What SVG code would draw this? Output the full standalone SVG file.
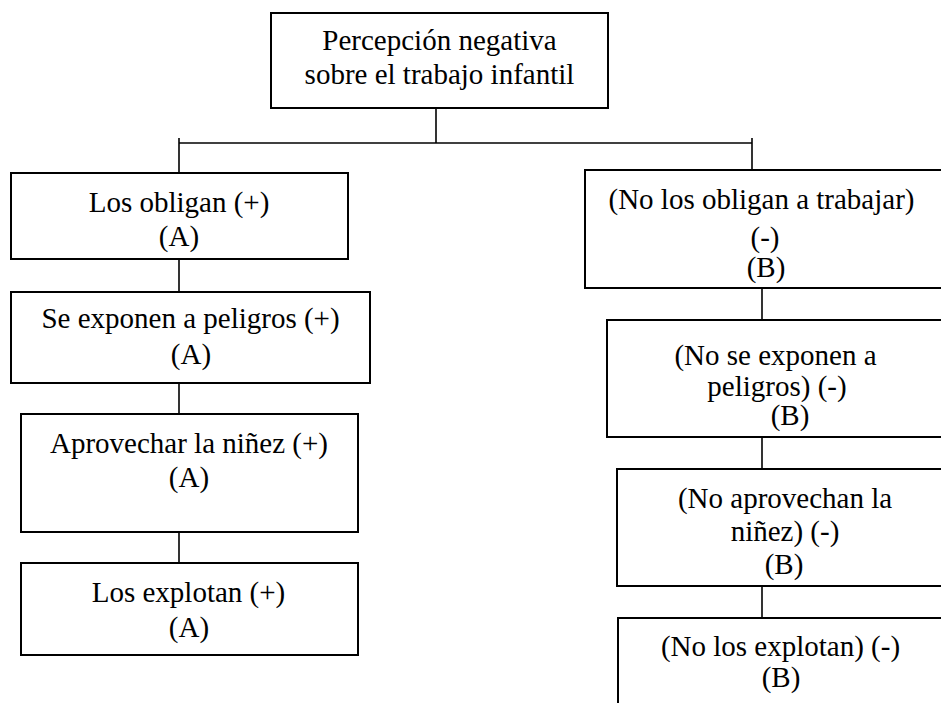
<svg xmlns="http://www.w3.org/2000/svg" width="941" height="703" viewBox="0 0 941 703">
  <style>
    .box { fill: #ffffff; stroke: #000000; stroke-width: 2; }
    .link { fill: none; stroke: #000000; stroke-width: 1.6; }
    text { font-family: "Liberation Serif", "Times New Roman", "DejaVu Serif", serif; font-size: 29px; fill: #000000; text-anchor: middle; }
  </style>
  <rect x="0" y="0" width="941" height="703" fill="#ffffff"/>

  <!-- connectors -->
  <g id="connectors">
    <line class="link" x1="436" y1="108" x2="436" y2="143"/>
    <line class="link" x1="179" y1="143" x2="752" y2="143"/>
    <line class="link" x1="179" y1="138" x2="179" y2="173"/>
    <line class="link" x1="752" y1="138" x2="752" y2="170"/>
    <line class="link" x1="179" y1="259" x2="179" y2="292"/>
    <line class="link" x1="179" y1="383" x2="179" y2="414"/>
    <line class="link" x1="179" y1="532" x2="179" y2="563"/>
    <line class="link" x1="762" y1="288" x2="762" y2="320"/>
    <line class="link" x1="762" y1="437" x2="762" y2="469"/>
    <line class="link" x1="762" y1="586" x2="762" y2="618"/>
  </g>

  <!-- root -->
  <g id="root">
    <rect class="box" x="271" y="13" width="337" height="95"/>
    <text x="439.5" y="50">Percepción negativa</text>
    <text x="439.5" y="84">sobre el trabajo infantil</text>
  </g>

  <!-- left branch -->
  <g id="a1">
    <rect class="box" x="11" y="173" width="337" height="86"/>
    <text x="179" y="212">Los obligan (+)</text>
    <text x="179" y="246">(A)</text>
  </g>
  <g id="a2">
    <rect class="box" x="11" y="292" width="359" height="91"/>
    <text x="190.5" y="328">Se exponen a peligros (+)</text>
    <text x="191" y="364">(A)</text>
  </g>
  <g id="a3">
    <rect class="box" x="21" y="414" width="337" height="118"/>
    <text x="189" y="453">Aprovechar la niñez (+)</text>
    <text x="189" y="487">(A)</text>
  </g>
  <g id="a4">
    <rect class="box" x="21" y="563" width="337" height="92"/>
    <text x="188.5" y="602">Los explotan (+)</text>
    <text x="189" y="637">(A)</text>
  </g>

  <!-- right branch -->
  <g id="b1">
    <rect class="box" x="585" y="170" width="370" height="118"/>
    <text x="761.5" y="209">(No los obligan a trabajar)</text>
    <text x="765" y="247">(-)</text>
    <text x="766" y="277">(B)</text>
  </g>
  <g id="b2">
    <rect class="box" x="607" y="320" width="350" height="117"/>
    <text x="775.5" y="365">(No se exponen a</text>
    <text x="777" y="396">peligros) (-)</text>
    <text x="790" y="425">(B)</text>
  </g>
  <g id="b3">
    <rect class="box" x="617" y="469" width="340" height="117"/>
    <text x="785" y="508">(No aprovechan la</text>
    <text x="785" y="541">niñez) (-)</text>
    <text x="784" y="574">(B)</text>
  </g>
  <g id="b4">
    <rect class="box" x="618" y="618" width="340" height="100"/>
    <text x="780.5" y="656">(No los explotan) (-)</text>
    <text x="781" y="687">(B)</text>
  </g>
</svg>
